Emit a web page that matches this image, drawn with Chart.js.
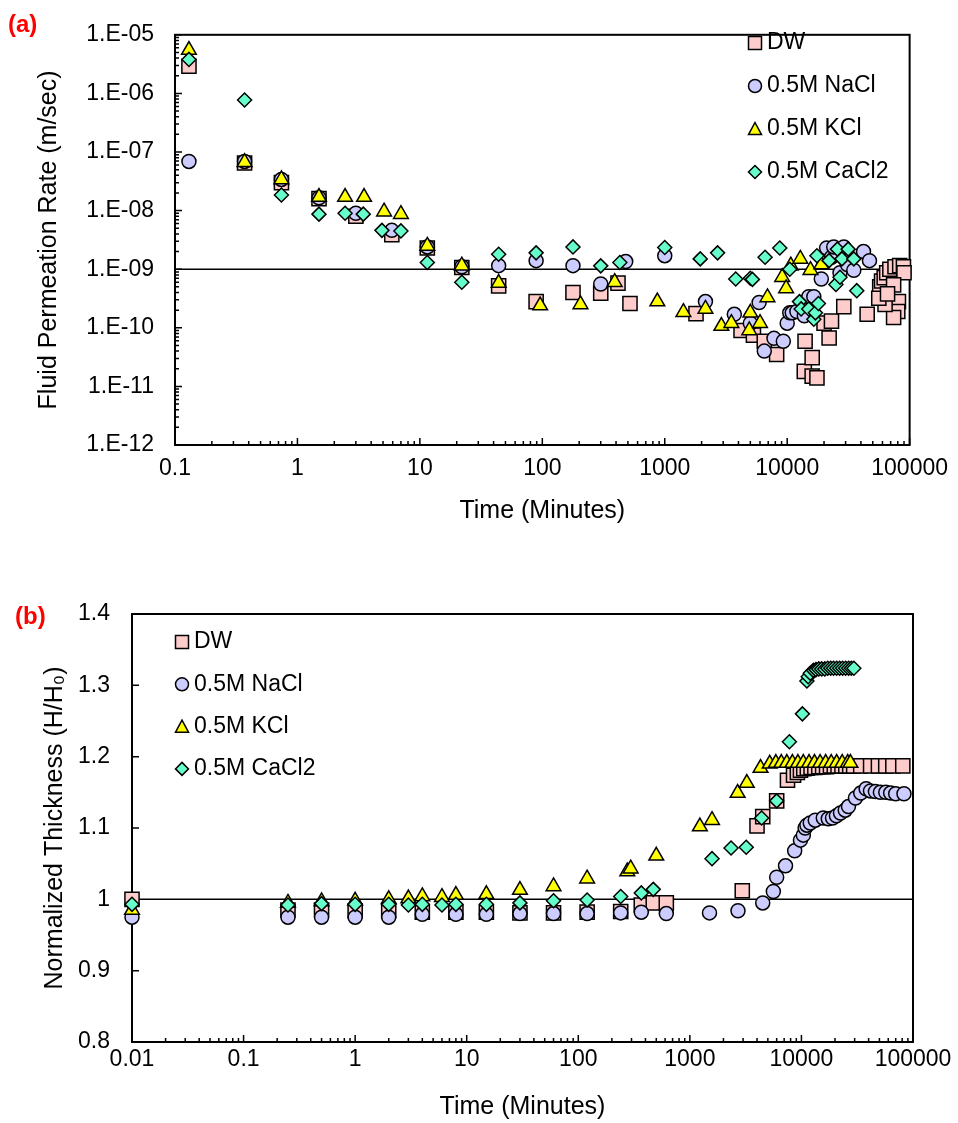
<!DOCTYPE html>
<html>
<head>
<meta charset="utf-8">
<title>Fluid permeation and normalized thickness</title>
<script src="https://cdn.jsdelivr.net/npm/chart.js@4.4.1/dist/chart.umd.min.js"></script>
<style>
  body { margin: 0; background: #fff; font-family: "Liberation Sans", Arial, sans-serif; }
  .wrap { position: relative; width: 958px; height: 1123px; }
  canvas { position: absolute; left: 0; }
  #chartA { top: 0; }
  #chartB { top: 560px; }
  .tag { position: absolute; color: #f00; font-weight: bold; font-size: 24px; line-height: 1; }
</style>
</head>
<body>
<div class="wrap">
  <canvas id="chartA" width="958" height="560"></canvas>
  <canvas id="chartB" width="958" height="563"></canvas>
  <div class="tag" style="left:8px;top:12px">(a)</div>
  <div class="tag" style="left:15px;top:604px">(b)</div>
</div>
<script>
// (a) fluid permeation rate, m/sec, against time in minutes
const dwTimeA = [0.13, 0.37, 0.74, 1.5, 3.0, 5.9, 11.5, 22, 44, 89, 178, 300, 415, 520, 1800, 4200, 5300, 6500, 8200, 13800, 14000, 16000, 16000, 17500, 20000, 22000, 23000, 29000, 45000, 57000, 59000, 62000, 65000, 69000, 76000, 83000, 89000, 90000, 74000, 81000, 80000, 74000, 63000, 56000, 66000];
const dwRateA = [2.9e-6, 6.5e-8, 3.0e-8, 1.6e-8, 8.0e-9, 3.9e-9, 2.3e-9, 1.07e-9, 5.2e-10, 2.8e-10, 4.0e-10, 3.9e-10, 5.8e-10, 2.6e-10, 1.75e-10, 9e-11, 7.5e-11, 5.9e-11, 3.5e-11, 1.8e-11, 5.9e-11, 3.1e-11, 1.5e-11, 1.4e-11, 1.2e-10, 6.7e-11, 1.3e-10, 2.3e-10, 1.7e-10, 5.0e-10, 6.3e-10, 7.2e-10, 8.7e-10, 1.0e-9, 1.1e-9, 1.15e-9, 1.1e-9, 8.7e-10, 5.4e-10, 2.8e-10, 1.9e-10, 1.5e-10, 2.5e-10, 3.2e-10, 3.8e-10];

const naclTimeA = [0.13, 0.37, 0.74, 1.5, 3.0, 5.9, 11.5, 22, 44, 89, 178, 300, 480, 1000, 2150, 3700, 5000, 5900, 6500, 7800, 9300, 10000, 10500, 11000, 12000, 13800, 15000, 16500, 19000, 21000, 23000, 24000, 27000, 29000, 31000, 35000, 42000, 47000];
const naclRateA = [6.9e-8, 6.9e-8, 3.4e-8, 1.65e-8, 9e-9, 4.6e-9, 2.4e-9, 1.1e-9, 1.15e-9, 1.4e-9, 1.15e-9, 5.6e-10, 1.35e-9, 1.7e-9, 2.8e-10, 1.7e-10, 1.2e-10, 2.7e-10, 4e-11, 6.6e-11, 5.9e-11, 1.2e-10, 1.8e-10, 1.8e-10, 1.9e-10, 1.6e-10, 3.4e-10, 3.4e-10, 6.8e-10, 2.3e-9, 1.6e-9, 2.4e-9, 8.7e-10, 2.4e-9, 1.2e-9, 9.6e-10, 2.0e-9, 1.4e-9];

const kclTimeA = [0.13, 0.37, 0.74, 1.5, 2.45, 3.5, 5.1, 7.0, 11.5, 22, 44, 96, 205, 390, 870, 1420, 2150, 2900, 3500, 4900, 5000, 6000, 6900, 9100, 9800, 10700, 12800, 15500, 19000];
const kclRateA = [5.5e-6, 6.7e-8, 3.4e-8, 1.7e-8, 1.7e-8, 1.7e-8, 9.6e-9, 8.7e-9, 2.5e-9, 1.15e-9, 5.8e-10, 2.4e-10, 2.5e-10, 6e-10, 2.8e-10, 1.85e-10, 2.1e-10, 1.07e-10, 1.2e-10, 9e-11, 1.8e-10, 1.2e-10, 3.3e-10, 7.3e-10, 4.7e-10, 1.15e-9, 1.5e-9, 9.6e-10, 1.2e-9];

const caclTimeA = [0.13, 0.37, 0.74, 1.5, 2.45, 3.45, 4.9, 7.0, 11.5, 22, 44, 89, 178, 300, 430, 1000, 1950, 2700, 3800, 5000, 5200, 6600, 8700, 10500, 12600, 13000, 15000, 16500, 17000, 18000, 17500, 22000, 25700, 31500, 25000, 27000, 37000, 28000, 35000];
const caclRateA = [3.8e-6, 7.7e-7, 1.85e-8, 8.7e-9, 9e-9, 8.7e-9, 4.6e-9, 4.5e-9, 1.3e-9, 6e-10, 1.8e-9, 1.9e-9, 2.4e-9, 1.14e-9, 1.3e-9, 2.35e-9, 1.5e-9, 1.9e-9, 6.8e-10, 7e-10, 6.7e-10, 1.6e-9, 2.3e-9, 1e-9, 2.8e-10, 2.1e-10, 2.1e-10, 1.4e-10, 1.8e-10, 2.6e-10, 1.7e-9, 1.4e-9, 2.2e-9, 2.2e-9, 5.5e-10, 7.3e-10, 4.3e-10, 1.5e-9, 1.5e-9];

// (b) normalized thickness H/H0 against time in minutes
const dwTimeB = [0.01, 0.25, 0.5, 1, 2, 4, 8, 15, 30, 60, 120, 240, 367, 470, 615, 2950, 4000, 4500, 6000, 7500, 8500, 9200, 9800, 10500, 11300, 12200, 13200, 14300, 15500, 16800, 18200, 19700, 21300, 23100, 25000, 27100, 29400, 34000, 41700, 49000, 57000, 66000, 81000];
const dwThickB = [1.0, 0.985, 0.985, 0.984, 0.984, 0.982, 0.982, 0.982, 0.981, 0.981, 0.982, 0.983, 0.992, 0.995, 0.995, 1.012, 1.103, 1.116, 1.138, 1.167, 1.174, 1.178, 1.181, 1.183, 1.184, 1.185, 1.185, 1.186, 1.186, 1.186, 1.187, 1.187, 1.187, 1.187, 1.187, 1.187, 1.187, 1.187, 1.187, 1.187, 1.187, 1.187, 1.187];

const naclTimeB = [0.01, 0.25, 0.5, 1, 2, 4, 8, 15, 30, 60, 120, 240, 367, 615, 1500, 2700, 4500, 5600, 6000, 7200, 8700, 9800, 10400, 10800, 11200, 12000, 13300, 15700, 17400, 19000, 20600, 22400, 24700, 26400, 30500, 34000, 38000, 41600, 46000, 51000, 57000, 63000, 70000, 83000];
const naclThickB = [0.975, 0.975, 0.975, 0.975, 0.975, 0.979, 0.979, 0.979, 0.98, 0.98, 0.98, 0.981, 0.982, 0.98, 0.981, 0.984, 0.995, 1.011, 1.031, 1.047, 1.068, 1.083, 1.09, 1.1, 1.104, 1.107, 1.111, 1.114, 1.113, 1.114, 1.117, 1.121, 1.125, 1.13, 1.142, 1.149, 1.155, 1.152, 1.151, 1.15, 1.15, 1.149, 1.148, 1.148];

const kclTimeB = [0.01, 0.25, 0.5, 1, 2, 3, 4, 6, 8, 15, 30, 60, 120, 275, 295, 500, 1230, 1580, 2680, 3240, 4300, 5200, 5900, 6600, 7400, 8300, 9300, 10400, 11700, 13100, 14700, 16500, 18500, 20700, 23200, 26000, 27500];
const kclThickB = [0.985, 0.995, 0.997, 0.998, 1.0, 1.001, 1.004, 1.003, 1.006, 1.007, 1.013, 1.018, 1.029, 1.039, 1.043, 1.061, 1.102, 1.111, 1.149, 1.163, 1.184, 1.19, 1.191, 1.191, 1.191, 1.191, 1.191, 1.191, 1.191, 1.191, 1.191, 1.191, 1.191, 1.191, 1.191, 1.191, 1.191];

const caclTimeB = [0.01, 0.25, 0.5, 1, 2, 3, 4, 6, 8, 15, 30, 60, 120, 240, 367, 470, 1580, 2340, 3200, 4400, 6000, 7800, 10200, 11200, 11500, 12000, 12800, 13500, 14300, 15200, 16200, 17200, 18300, 19400, 20700, 22000, 23400, 24900, 26500, 28000, 29500];
const caclThickB = [0.993, 0.992, 0.994, 0.993, 0.993, 0.992, 0.993, 0.992, 0.993, 0.993, 0.995, 0.998, 0.999, 1.004, 1.009, 1.014, 1.057, 1.072, 1.073, 1.114, 1.138, 1.221, 1.26, 1.306, 1.312, 1.317, 1.321, 1.322, 1.323, 1.323, 1.323, 1.324, 1.324, 1.324, 1.324, 1.324, 1.324, 1.324, 1.324, 1.324, 1.324];

// axis ticks and reference levels
const timeTicksA = [0.1, 1, 10, 100, 1000, 10000, 100000];
const rateTicksA = [1e-12, 1e-11, 1e-10, 1e-9, 1e-8, 1e-7, 1e-6, 1e-5];
const timeTicksB = [0.01, 0.1, 1, 10, 100, 1000, 10000, 100000];
const thickTicksB = [0.8, 0.9, 1, 1.1, 1.2, 1.3, 1.4];
const rateRefA = 1e-9;
const thickRefB = 1.0;

const seriesLabels = ['DW', '0.5M NaCl', '0.5M KCl', '0.5M CaCl2'];
const markerStyles = ['rect', 'circle', 'triangle', 'rectRot'];
const markerRadius = [10, 7, 8.5, 7];
const markerFill = ['#FFCCCC', '#CCCCFF', '#FFFF00', '#66FFCC'];

const FONT = '"Liberation Sans", Arial, sans-serif';
Chart.defaults.font.family = FONT;
Chart.defaults.color = '#000';

function seriesSets(times, values) {
    return times.map((t, i) => ({
        label: seriesLabels[i],
        data: t.map((x, j) => ({ x, y: values[i][j] })),
        pointStyle: markerStyles[i],
        pointRadius: markerRadius[i],
        pointHoverRadius: markerRadius[i],
        backgroundColor: markerFill[i],
        pointBackgroundColor: markerFill[i],
        pointBorderColor: '#000',
        pointBorderWidth: 1.5,
        order: 10 - i, // later series sit on top
        clip: false,
    }));
}

function refLine(xMin, xMax, level) {
    return {
        data: [{ x: xMin, y: level }, { x: xMax, y: level }],
        showLine: true,
        borderColor: '#000',
        borderWidth: 1.5,
        pointRadius: 0,
        pointHoverRadius: 0,
        order: 20,
    };
}

// tick marks for a scale: decades plus 2..9 minors on log axes
function tickMarks(scale) {
    if (scale.type !== 'logarithmic') return scale.ticks.map((t) => ({ v: t.value, major: true }));
    const out = [];
    const e0 = Math.round(Math.log10(scale.min));
    const e1 = Math.round(Math.log10(scale.max));
    for (let e = e0; e < e1; e++) {
        for (let k = 1; k <= 9; k++) out.push({ v: k * Math.pow(10, e), major: k === 1 });
    }
    out.push({ v: scale.max, major: true });
    return out;
}

// box around the plot with inward tick marks
const axisFrame = {
    id: 'axisFrame',
    beforeDatasetsDraw(chart) {
        const { ctx, chartArea: a, scales: { x, y } } = chart;
        ctx.save();
        ctx.strokeStyle = '#000';
        ctx.lineWidth = 1.5;
        ctx.beginPath();
        for (const t of tickMarks(x)) {
            const px = x.getPixelForValue(t.v);
            ctx.moveTo(px, a.bottom);
            ctx.lineTo(px, a.bottom - (t.major ? 7 : 4));
        }
        for (const t of tickMarks(y)) {
            const py = y.getPixelForValue(t.v);
            ctx.moveTo(a.left, py);
            ctx.lineTo(a.left + (t.major ? 7 : 4), py);
        }
        ctx.stroke();
        ctx.lineWidth = 2;
        ctx.strokeRect(a.left, a.top, a.right - a.left, a.bottom - a.top);
        ctx.restore();
    },
};

function drawMarker(ctx, style, x, y, r) {
    ctx.beginPath();
    if (style === 'rect') {
        ctx.rect(x - r, y - r, 2 * r, 2 * r);
    } else if (style === 'circle') {
        ctx.arc(x, y, r, 0, Math.PI * 2);
    } else if (style === 'triangle') {
        ctx.moveTo(x, y - r);
        ctx.lineTo(x + r, y + r * 0.85);
        ctx.lineTo(x - r, y + r * 0.85);
        ctx.closePath();
    } else {
        ctx.moveTo(x, y - r);
        ctx.lineTo(x + r, y);
        ctx.lineTo(x, y + r);
        ctx.lineTo(x - r, y);
        ctx.closePath();
    }
    ctx.fill();
    ctx.stroke();
}

// legend stacked vertically inside the plot
const markerLegend = {
    id: 'markerLegend',
    afterDraw(chart, args, opts) {
        const { ctx } = chart;
        ctx.save();
        ctx.font = `23px ${FONT}`;
        ctx.textBaseline = 'middle';
        ctx.strokeStyle = '#000';
        ctx.lineWidth = 1.5;
        let y = opts.top;
        chart.data.datasets.filter((d) => d.label).forEach((d) => {
            ctx.fillStyle = d.backgroundColor;
            drawMarker(ctx, d.pointStyle, opts.left, y, 6.5);
            ctx.fillStyle = '#000';
            ctx.fillText(d.label, opts.left + 12, y);
            y += opts.step;
        });
        ctx.restore();
    },
};

function makeChart(id, cfg) {
    return new Chart(document.getElementById(id), {
        type: 'scatter',
        data: { datasets: [refLine(cfg.xTicks[0], cfg.xTicks[cfg.xTicks.length - 1], cfg.ref), ...cfg.sets] },
        plugins: [axisFrame, markerLegend],
        options: {
            responsive: false,
            animation: false,
            devicePixelRatio: 1,
            layout: { padding: { top: cfg.padTop, right: 45, bottom: 0, left: 0 } },
            plugins: {
                legend: { display: false },
                tooltip: { enabled: false },
                markerLegend: cfg.legend,
            },
            scales: {
                x: {
                    type: 'logarithmic',
                    min: cfg.xTicks[0],
                    max: cfg.xTicks[cfg.xTicks.length - 1],
                    afterBuildTicks: (s) => { s.ticks = cfg.xTicks.map((v) => ({ value: v })); },
                    afterFit: (s) => { s.height = cfg.xHeight; },
                    grid: { display: false, drawTicks: false },
                    border: { display: false },
                    ticks: {
                        autoSkip: false,
                        maxRotation: 0,
                        padding: cfg.xPad,
                        font: { size: 23 },
                        callback: (v) => String(v),
                    },
                    title: {
                        display: true,
                        text: 'Time (Minutes)',
                        font: { size: 25 },
                        padding: { top: 0, bottom: cfg.xTitlePad },
                    },
                },
                y: {
                    type: cfg.yType,
                    min: cfg.yTicks[0],
                    max: cfg.yTicks[cfg.yTicks.length - 1],
                    afterBuildTicks: (s) => { s.ticks = cfg.yTicks.map((v) => ({ value: v })); },
                    afterFit: (s) => { s.width = cfg.yWidth; },
                    grid: { display: false, drawTicks: false },
                    border: { display: false },
                    ticks: {
                        autoSkip: false,
                        padding: cfg.yPad,
                        font: { size: 23 },
                        callback: cfg.yLabel,
                    },
                    title: {
                        display: true,
                        text: cfg.yTitle,
                        font: { size: 25 },
                        padding: { top: cfg.yTitlePad, bottom: 0 },
                    },
                },
            },
        },
    });
}

makeChart('chartA', {
    sets: seriesSets([dwTimeA, naclTimeA, kclTimeA, caclTimeA], [dwRateA, naclRateA, kclRateA, caclRateA]),
    xTicks: timeTicksA,
    yTicks: rateTicksA,
    yType: 'logarithmic',
    ref: rateRefA,
    padTop: 17,
    xHeight: 115,
    xPad: 10,
    xTitlePad: 34,
    yWidth: 175,
    yPad: 21,
    yTitlePad: 34,
    yTitle: 'Fluid Permeation Rate (m/sec)',
    yLabel: (v) => '1.E-' + String(Math.round(-Math.log10(v))).padStart(2, '0'),
    legend: { left: 755, top: 43, step: 43 },
});

makeChart('chartB', {
    sets: seriesSets([dwTimeB, naclTimeB, kclTimeB, caclTimeB], [dwThickB, naclThickB, kclThickB, caclThickB]),
    xTicks: timeTicksB,
    yTicks: thickTicksB,
    yType: 'linear',
    ref: thickRefB,
    padTop: 54,
    xHeight: 81,
    xPad: 4,
    xTitlePad: 1,
    yWidth: 132,
    yPad: 22,
    yTitlePad: 40,
    yTitle: 'Normalized Thickness (H/H₀)',
    yLabel: (v) => String(Math.round(v * 10) / 10),
    legend: { left: 182, top: 82, step: 42.3 },
});
</script>
</body>
</html>
